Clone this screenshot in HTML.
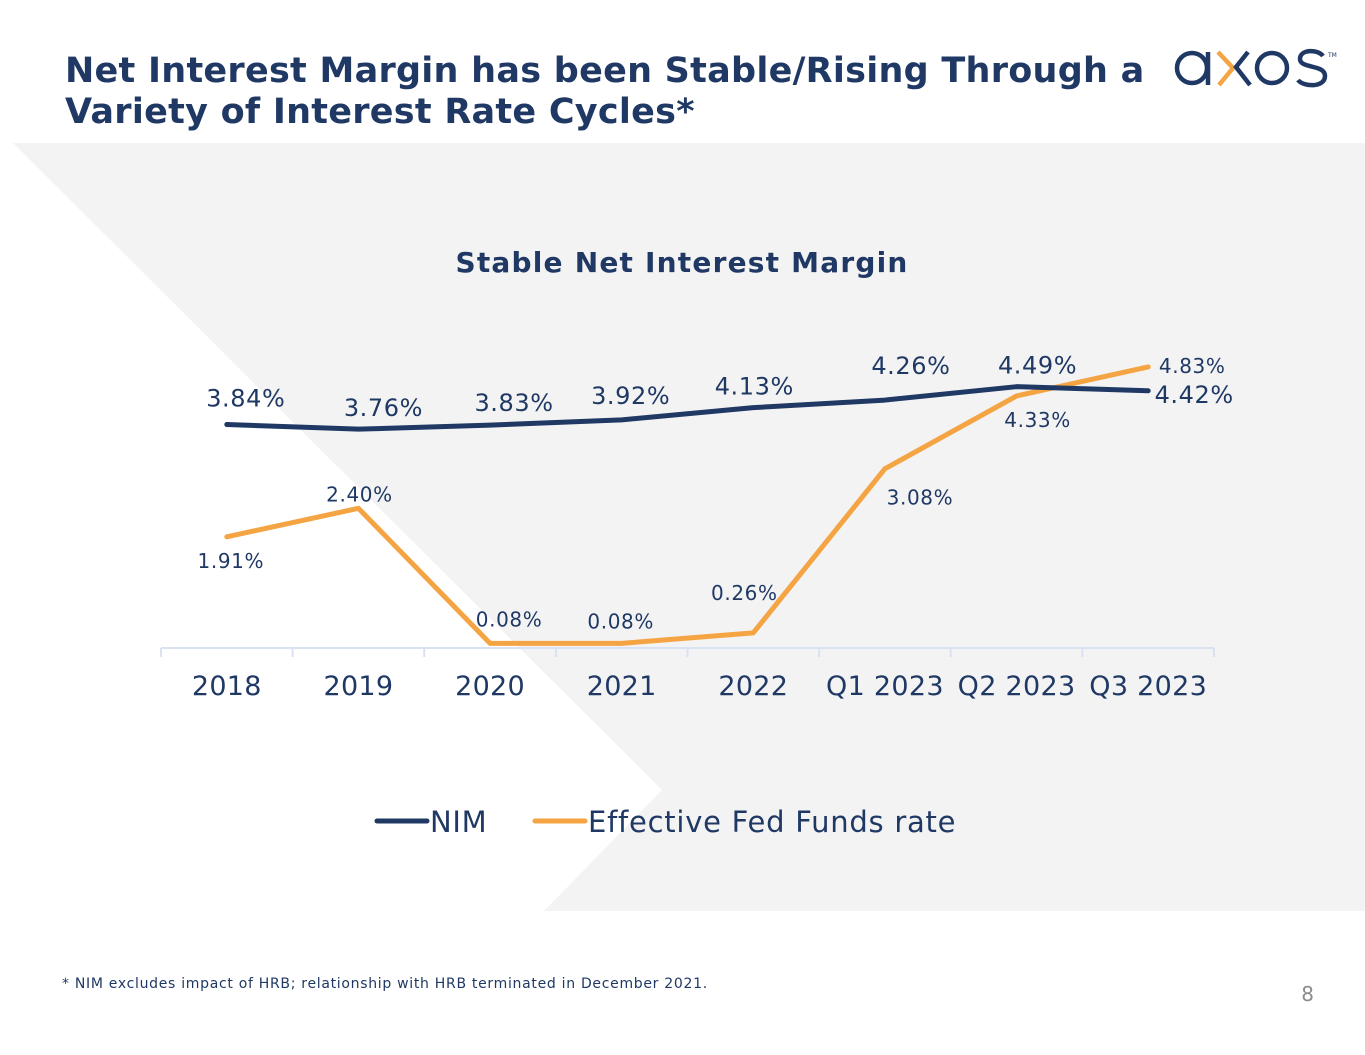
<!DOCTYPE html>
<html><head><meta charset="utf-8"><style>
body{margin:0;width:1365px;height:1055px;background:#fff;overflow:hidden;font-family:"DejaVu Sans","Liberation Sans",sans-serif;}
svg{display:block}
</style></head><body>
<svg width="1365" height="1055">
<polygon points="13,143 1365,143 1365,911 544,911 662,790" fill="#f3f3f3"/>
<text x="65" y="82" font-size="35" font-weight="bold" fill="#1f3864" letter-spacing="0.26">Net Interest Margin has been Stable/Rising Through a</text>
<text x="65" y="123" font-size="35" font-weight="bold" fill="#1f3864" letter-spacing="0.26">Variety of Interest Rate Cycles*</text>
<g fill="none" stroke-width="4.5">
<circle cx="1192" cy="68" r="15" stroke="#1f3864"/>
<line x1="1208" y1="52" x2="1208" y2="85" stroke="#1f3864"/>
<polyline points="1218,52 1233,68 1219,85" stroke="#f4a442"/>
<polyline points="1248,52 1236,67 1250,85" stroke="#1f3864"/>
<circle cx="1272" cy="68" r="15" stroke="#1f3864"/>
<path d="M1323,56 C1318,49 1300,49 1300,59 C1300,69 1325,64 1325,76 C1325,88 1303,87 1298,80" stroke="#1f3864"/>
<text x="1328" y="57" font-size="6" fill="#1f3864" stroke="none">TM</text>
</g>
<text x="682" y="272" text-anchor="middle" font-size="28" font-weight="bold" fill="#1f3864" letter-spacing="1.2">Stable Net Interest Margin</text>
<g id="chart"></g>
<g>
<line x1="377" y1="821" x2="427" y2="821" stroke="#1f3864" stroke-width="5" stroke-linecap="round"/>
<text x="430" y="832" font-size="29" fill="#1f3864" letter-spacing="0.7">NIM</text>
<line x1="535" y1="821" x2="585" y2="821" stroke="#f4a442" stroke-width="5" stroke-linecap="round"/>
<text x="588" y="832" font-size="29" fill="#1f3864" letter-spacing="0.75">Effective Fed Funds rate</text>
</g>
<text x="62" y="988" font-size="14" fill="#1f3864" letter-spacing="0.7">* NIM excludes impact of HRB; relationship with HRB terminated in December 2021.</text>
<text x="1314" y="1001" text-anchor="end" font-size="20" fill="#8c8c8c">8</text>
</svg>
<script>
const categories=["2018","2019","2020","2021","2022","Q1 2023","Q2 2023","Q3 2023"];
const nimValues=[3.84,3.76,3.83,3.92,4.13,4.26,4.49,4.42];
const fedValues=[1.91,2.40,0.08,0.08,0.26,3.08,4.33,4.83];
const nimLabels=["3.84%","3.76%","3.83%","3.92%","4.13%","4.26%","4.49%","4.42%"];
const fedLabels=["1.91%","2.40%","0.08%","0.08%","0.26%","3.08%","4.33%","4.83%"];
const nimDx=[19,25,24,9,1,26,21,46],nimDy=[-18,-13,-14,-16,-13,-26,-13,12];
const fedDx=[4,1,19,-1,-9,35,21,44],fedDy=[31,-7,-17,-15,-33,36,31,6];
const NS="http://www.w3.org/2000/svg";
const g=document.getElementById('chart');
const x0=161,x1=1214,step=(x1-x0)/categories.length;
function xs(i){return x0+step*(i+0.5);}
function ys(v){return 648-v*58.2;}
function mk(t,a){const e=document.createElementNS(NS,t);for(const k in a)e.setAttribute(k,a[k]);g.appendChild(e);return e;}
const ax=mk('line',{x1:x0,y1:648,x2:x1,y2:648,stroke:'#d9e1f2','stroke-width':2});


for(let i=0;i<=categories.length;i++){
 const t=mk('line',{x1:x0+step*i,y1:648,x2:x0+step*i,y2:657,stroke:'#d9e1f2','stroke-width':2});
 
 
}
categories.forEach((c,i)=>{
 const t=mk('text',{x:xs(i),y:695,'text-anchor':'middle','font-size':27,fill:'#1f3864','letter-spacing':0.3});
 t.textContent=c;
 
 
});
function series(vals,color,name){
 const p=mk('polyline',{points:vals.map((v,i)=>xs(i)+','+ys(v)).join(' '),fill:'none',stroke:color,'stroke-width':5,'stroke-linejoin':'round','stroke-linecap':'round'});
 
 
}
series(fedValues,'#f4a442','fed-funds-line');
series(nimValues,'#1f3864','nim-line');
nimValues.forEach((v,i)=>{
 const t=mk('text',{x:xs(i)+nimDx[i],y:ys(v)+nimDy[i],'text-anchor':'middle','font-size':24,fill:'#1f3864','letter-spacing':0.6});
 t.textContent=nimLabels[i];
 
 
});
fedValues.forEach((v,i)=>{
 const t=mk('text',{x:xs(i)+fedDx[i],y:ys(v)+fedDy[i],'text-anchor':'middle','font-size':20,fill:'#1f3864','letter-spacing':0.6});
 t.textContent=fedLabels[i];
 
 
});
</script>
</body></html>
